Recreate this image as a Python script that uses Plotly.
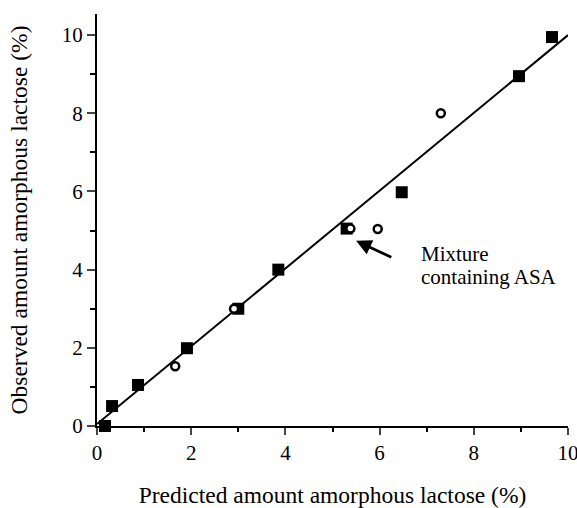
import plotly.graph_objects as go

# Data
sq_x = [0.17, 0.32, 0.87, 1.91, 3.0, 3.85, 5.30, 6.47, 8.96, 9.66]
sq_y = [0.0, 0.51, 1.05, 1.99, 3.0, 4.0, 5.05, 5.98, 8.95, 9.95]
circ_x = [1.66, 2.91, 5.38, 5.96, 7.30]
circ_y = [1.53, 3.0, 5.05, 5.04, 8.0]
line_x = [0.0, 10.0]
line_y = [0.05, 10.0]
x_ticks = [0, 2, 4, 6, 8, 10]
y_ticks = [0, 2, 4, 6, 8, 10]

font = "Liberation Serif"

fig = go.Figure()
fig.add_trace(go.Scatter(x=line_x, y=line_y, mode="lines",
                         line=dict(color="black", width=2), cliponaxis=False,
                         showlegend=False))
fig.add_trace(go.Scatter(x=sq_x, y=sq_y, mode="markers",
                         marker=dict(symbol="square", size=12, color="black"),
                         cliponaxis=False, showlegend=False))
fig.add_trace(go.Scatter(x=circ_x, y=circ_y, mode="markers",
                         marker=dict(symbol="circle", size=8, color="white",
                                     line=dict(color="black", width=2.5)),
                         cliponaxis=False, showlegend=False))

fig.add_annotation(x=5.50, y=4.74, ax=6.28, ay=4.30, xref="x", yref="y",
                   axref="x", ayref="y", showarrow=True, arrowhead=2,
                   arrowsize=1.1, arrowwidth=2.8, arrowcolor="black", text="")
fig.add_annotation(x=6.84, y=4.39, xref="x", yref="y", xanchor="left",
                   yanchor="middle", showarrow=False, align="left",
                   text="Mixture",
                   font=dict(family=font, size=21, color="black"))
fig.add_annotation(x=6.84, y=3.80, xref="x", yref="y", xanchor="left",
                   yanchor="middle", showarrow=False, align="left",
                   text="containing ASA",
                   font=dict(family=font, size=21, color="black"))

fig.update_layout(
    width=577, height=508,
    margin=dict(l=97, r=9, t=14, b=82),
    paper_bgcolor="white", plot_bgcolor="white",
    font=dict(family=font, size=21, color="black"),
)
fig.update_xaxes(range=[0, 10], tickvals=x_ticks, ticks="outside", ticklen=7,
                 tickwidth=2, showline=True, linewidth=2, linecolor="black",
                 showgrid=False, zeroline=False, ticklabeloverflow="allow",
                 automargin=False,
                 minor=dict(tickvals=[1, 3, 5, 7, 9], ticks="outside", ticklen=4,
                            tickwidth=2, tickcolor="black"),
                 title=dict(text="Predicted amount amorphous lactose (%)",
                            font=dict(size=23.5), standoff=24),
                 tickfont=dict(size=21))
fig.update_yaxes(range=[0, 10.54], tickvals=y_ticks, ticks="outside", ticklen=8,
                 tickwidth=2, showline=True, linewidth=2, linecolor="black",
                 showgrid=False, zeroline=False, automargin=False,
                 minor=dict(tickvals=[1, 3, 5, 7, 9], ticks="outside", ticklen=5,
                            tickwidth=2, tickcolor="black"),
                 title=dict(text="Observed amount amorphous lactose (%)",
                            font=dict(size=23.5), standoff=28),
                 tickfont=dict(size=21))

fig.write_html("out.html")
